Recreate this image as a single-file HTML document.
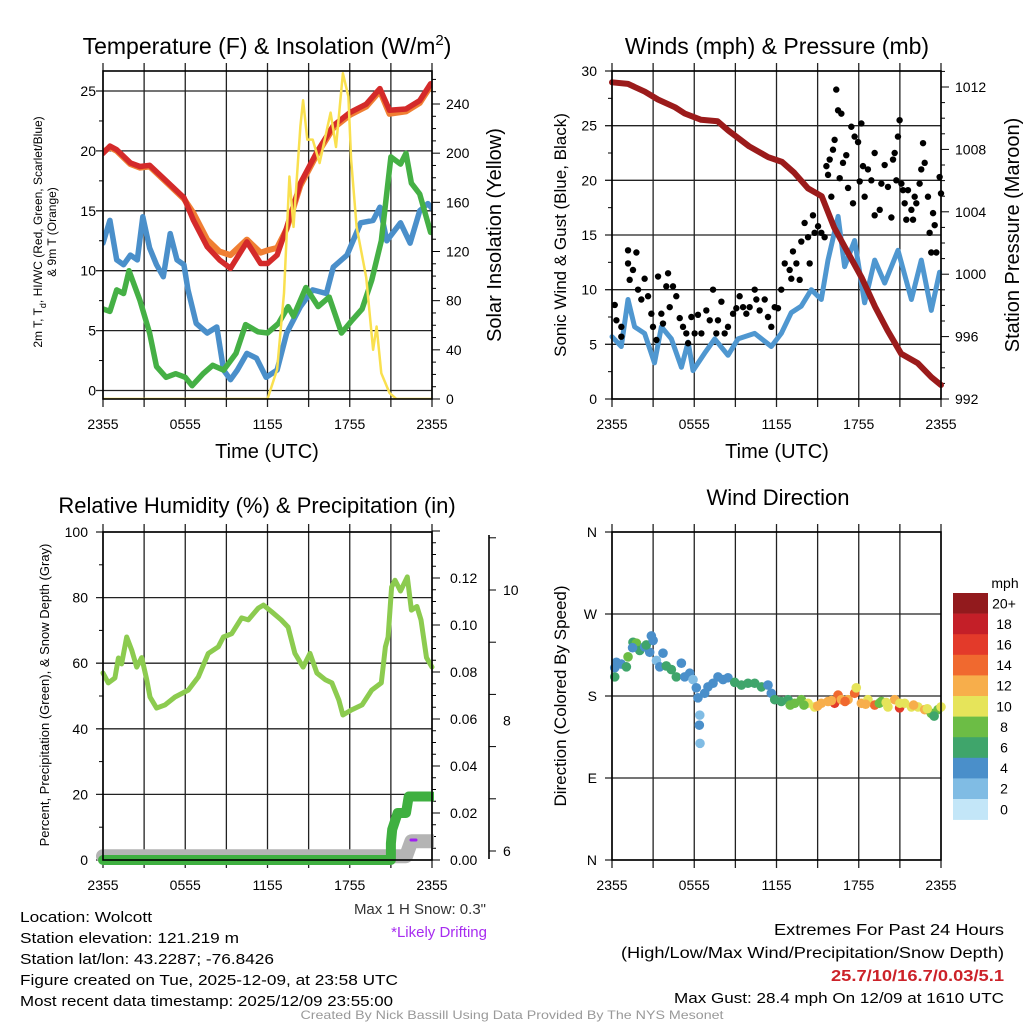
<!DOCTYPE html>
<html><head><meta charset="utf-8"><style>
body{margin:0;background:#fff;}
svg{display:block;font-family:"Liberation Sans",sans-serif;}
</style></head><body>
<svg id="fig" width="1024" height="1024" viewBox="0 0 1024 1024" xmlns="http://www.w3.org/2000/svg">
<rect x="0" y="0" width="1024" height="1024" fill="#fff"/>
<g id="layer"></g>
</svg>
<script>
// ---------- DATA ----------
const timeTickLabels = ["2355","0555","1155","1755","2355"];
// Panel 1: temperature (F) and insolation
const tempHours = [0,0.5,1.0,2.0,2.7,3.4,4.6,5.9,6.6,7.6,8.5,9.3,10.5,11.5,12,12.7,13.4,14.4,15.6,16.8,18,19.2,20.2,20.9,22.1,23.1,23.9];
const tempRed    = [19.8,20.4,20.1,19.0,18.7,18.8,17.5,16.1,14.2,12.0,10.9,10.2,12.4,10.6,10.6,11.3,13.6,17.3,19.9,22.1,23.2,23.9,25.2,23.4,23.5,24.2,25.6];
const temp9mOrange=[19.9,20.3,20.0,18.9,18.6,18.7,17.4,16.0,14.8,12.6,11.6,11.3,12.6,11.5,11.7,11.9,13.5,17.1,19.7,21.9,23.0,23.7,25.0,23.1,23.3,24.0,25.4];
const dewHours = [0,0.5,1,1.5,2,2.5,2.9,3.4,3.9,4.4,4.9,5.4,5.9,6.2,6.8,7.6,8.3,8.8,9.3,9.8,10.5,11.2,11.9,12.7,13.4,14.4,15.3,16.3,16.8,17.8,18.8,19.7,20.2,20.7,21.7,22.4,23.1,23.7,24];
const dewBlue  = [12.3,14.2,10.9,10.5,11.3,10.9,14.5,11.9,10.5,9.5,13.1,10.9,10.5,8.4,5.6,4.8,5.3,1.7,0.9,1.7,3.1,2.7,1.1,1.7,4.8,7.0,8.4,8.1,10.3,11.3,14.0,14.2,15.3,12.5,14.0,12.3,15.0,15.6,15.2];
const wcHours = [0,0.5,1.0,1.5,1.9,2.7,3.4,3.9,4.6,5.3,6.0,6.5,7.3,8.0,8.8,9.7,10.4,11.3,12.0,12.8,13.5,13.9,14.8,15.7,16.5,17.4,18.2,18.9,19.6,20.3,21.0,21.7,22.1,22.5,23.1,23.9];
const wcGreen = [6.8,6.6,8.4,8.1,10.0,7.5,4.8,2.0,1.1,1.4,1.1,0.4,1.4,2.1,1.7,3.1,5.5,4.9,4.8,5.6,7.0,6.2,8.6,7.0,7.8,4.8,5.9,6.8,9.2,12.5,19.5,18.9,19.8,17.3,16.4,13.2];
const solarHours = [0,12.0,12.7,13.2,13.6,13.9,14.4,14.6,14.9,15.3,15.8,16.6,17.0,17.5,17.9,18.1,18.5,19.2,19.7,19.96,20.3,20.9,21.4,24];
const solarYellow= [0,0,24,86,181,140,222,243,211,211,192,233,205,265,246,195,140,99,40,59,21,5,0,0];
const p1LeftTicks = [0,5,10,15,20,25];
const p1RightTicks = [0,40,80,120,160,200,240];
// Panel 2: winds and pressure
const presHours = [0,1.17,2.4,3.35,4.6,5.3,6.5,7.7,8.5,10.0,11.4,12.4,13.3,14.3,15.3,16.2,17.2,18.2,19.2,20.1,21.1,22.3,23.3,24];
const presMaroon= [1012.3,1012.2,1011.7,1011.2,1010.7,1010.3,1009.9,1009.8,1009.2,1008.2,1007.5,1007.2,1006.5,1005.5,1005.0,1003.0,1001.4,999.8,997.9,996.4,994.9,994.3,993.4,992.9];
const windHours = [0,0.68,1.17,1.65,2.38,3.1,3.6,4.33,5.06,5.55,5.91,6.76,7.49,8.46,9.19,10.41,11.62,12.35,13.08,13.81,14.54,15.27,15.76,16.49,16.97,17.7,18.43,19.16,19.89,20.86,21.84,22.56,23.29,23.9];
const windBlue  = [5.7,4.8,9.1,6.6,6.0,3.3,6.6,5.5,2.9,5.2,2.6,4.2,5.5,4.0,5.5,6.0,4.8,6.0,7.9,8.5,10.0,9.1,12.7,16.7,12.1,14.5,8.8,12.7,10.6,13.6,9.1,12.7,8.1,11.6];
const gustHours = [0.2,0.32,0.68,0.68,1.17,1.17,1.29,1.53,1.78,1.9,2.14,2.38,2.63,2.87,2.99,3.24,3.36,3.6,3.72,3.96,4.09,4.21,4.45,4.69,4.94,5.18,5.42,5.55,5.79,6.03,6.27,6.52,6.88,7.13,7.37,7.61,7.73,7.98,8.22,8.46,8.83,9.07,9.31,9.56,9.8,10.04,10.41,10.53,10.77,11.14,11.38,11.62,11.87,12.11,12.35,12.6,12.96,13.08,13.2,13.45,13.69,13.81,14.05,14.3,14.42,14.66,14.78,15.03,15.27,15.51,15.64,15.76,15.88,16.0,16.12,16.24,16.36,16.49,16.61,16.73,16.85,17.09,17.22,17.46,17.58,17.7,17.95,18.07,18.19,18.31,18.43,18.67,18.92,19.16,19.16,19.53,19.65,19.89,20.13,20.38,20.5,20.62,20.74,20.86,20.98,21.11,21.23,21.35,21.47,21.59,21.84,21.96,22.08,22.2,22.44,22.56,22.69,22.81,23.05,23.17,23.29,23.42,23.54,23.66,23.9,24.0];
const gustBlack = [8.6,7.2,6.6,5.7,13.6,12.4,10.9,11.8,13.4,10.0,9.1,11.0,9.4,7.8,6.6,5.4,11.2,7.8,6.9,10.3,11.5,8.4,10.3,9.4,7.4,6.6,6.0,5.1,7.5,6.0,7.7,6.0,8.1,7.2,10.0,6.0,7.2,8.9,6.0,6.6,7.8,8.3,9.4,8.4,7.8,8.4,10.0,9.1,8.1,9.1,7.5,6.6,8.4,8.3,10.0,12.4,11.8,11.0,13.5,12.4,10.9,14.4,16.1,14.8,12.4,16.8,15.2,15.8,15.2,14.8,21.3,20.5,21.9,18.5,22.8,23.7,28.3,26.4,20.2,26.1,21.6,22.3,19.3,24.9,17.9,24.0,23.5,19.9,25.2,21.3,18.5,21.0,20.0,22.5,16.8,17.3,19.7,21.4,19.4,16.6,21.9,22.5,20.0,24.0,25.5,19.7,19.1,17.9,16.4,19.1,17.3,16.4,18.5,17.9,19.7,21.0,23.4,21.6,18.5,15.2,13.4,17.0,15.9,13.4,20.3,18.8];
const p2LeftTicks = [0,5,10,15,20,25,30];
const p2RightTicks = [992,996,1000,1004,1008,1012];
// Panel 3: RH, precipitation, snow depth
const rhHours = [0,0.39,0.87,1.12,1.36,1.73,2.09,2.46,2.82,3.19,3.43,3.91,4.52,5.25,6.22,6.95,7.68,8.41,8.78,9.39,10.11,10.6,11.33,11.7,12.3,13.0,13.5,14.0,14.6,15.1,15.6,16.2,16.7,17.2,17.5,18.1,18.9,19.6,20.3,20.6,20.8,21.05,21.3,21.7,22.2,22.5,22.9,23.2,23.6,24];
const rhGreen = [57,54,55.5,61.6,59.8,68,64,58.8,61.7,55,49.7,46.3,47.3,49.7,51.8,55.8,63,65,68,69,73.8,73.2,76.8,77.7,75.7,73.2,71,63,58.8,63,57,55,54,48.8,44.2,45.7,47.3,51.8,54,65,68,83.2,85.3,82,86.3,76.2,77.3,73.2,61.7,58.8];
const precipHours = [0,21.0,21.0,21.1,21.5,22.1,22.3,24];
const precipIn    = [0,0,0.007,0.013,0.02,0.02,0.027,0.027];
const snowHours = [0,0.3,20.9,22.1,22.5,24];
const snowDepth = [5.92,5.92,5.92,5.92,6.15,6.15];
const p3LeftTicks = [0,20,40,60,80,100];
const p3PrecipTicks = [0,0.02,0.04,0.06,0.08,0.10,0.12];
const p3SnowTicks = [10.8,10,9.2,8.4,7.6,6.8,6.0];
const p3SnowLabels = [10,8,6];
// Panel 4: wind direction colored by speed
const dirHours = [0.2,0.2,0.32,0.68,1.05,1.17,1.53,1.78,2.02,2.38,2.87,2.75,3.24,3.48,3.72,3.96,4.33,4.69,5.06,5.3,5.67,5.91,6.15,6.27,6.4,6.37,6.42,6.76,7.0,7.37,7.73,8.1,8.46,8.95,9.44,9.92,10.41,10.9,11.38,11.62,11.87,12.35,12.84,13.33,13.81,14.3,14.78,15.27,15.76,16.24,16.49,16.73,17.22,17.7,17.82,18.19,18.67,19.16,19.65,20.13,20.62,20.98,21.35,21.84,22.32,22.81,23.29,23.78,24.0,13.0,15.0,16.0,18.5,19.5,21.0,22.0,23.0,1.5,2.5,3.0,14.0,17.0,20.0,23.5];
const dirDeg   = [201,211,217,215,212,223,239,238,230,234,246,228,219,212,227,213,209,201,216,201,205,198,189,178,159,148,128,183,190,194,201,198,200,195,192,194,194,190,192,183,176,174,176,172,176,172,168,172,174,172,181,176,176,183,189,172,176,170,174,168,176,167,172,168,168,165,161,165,168,170,169,175,171,172,172,170,166,233,236,241,170,174,173,158];
const dirSpeed = [6,4,5,4,6,8,6,8,6,4,4,5,3,4,4,6,6,6,4,4,4,3,4,4,3,4,3,4,4,4,4,4,5,6,6,6,6,6,4,4,6,6,7,8,9,10,11,13,12,16,14,12,13,15,10,12,11,15,8,10,12,16,10,11,10,12,9,8,10,8,12,13,12,9,10,12,10,4,6,4,9,14,10,7];
const dirTickLabels = ["N","E","S","W","N"];
const dirTickValues = [0,90,180,270,360];
const speedBinLabels = ["0","2","4","6","8","10","12","14","16","18","20+"];
const speedBinColors = ["#c3e6f8","#80bce4","#4a8fca","#3fa56b","#6cbd45","#e6e45a","#f7ae4b","#f0692f","#e33a2a","#c41f28","#921a1d"];

// ---------- DRAWING ----------
const NS="http://www.w3.org/2000/svg";
const layer=document.getElementById('layer');
function el(tag,attrs,parent){const e=document.createElementNS(NS,tag);for(const k in attrs)e.setAttribute(k,attrs[k]);(parent||layer).appendChild(e);return e;}
function lin(d0,d1,r0,r1){return v=>r0+(v-d0)*(r1-r0)/(d1-d0);}
function txt(s,x,y,size,anchor,extra,parent){const t=el('text',Object.assign({x:x,y:y,'font-size':size,'text-anchor':anchor||'start',fill:'#000'},extra||{}),parent);t.textContent=s;return t;}
function pathFrom(xs,ys,fx,fy){return xs.map((h,i)=>(i?'L':'M')+fx(h).toFixed(1)+','+fy(ys[i]).toFixed(1)).join('');}

function panelBase(name,x0,x1,y0,y1,hGrid,fy){
  const g=el('g',{});
  
  
  const fx=lin(0,24,x0,x1);
  for(let h=0;h<=24;h+=3){
    el('line',{x1:fx(h),x2:fx(h),y1:y0-8,y2:y1+8,stroke:'#222','stroke-width':1.3},g);
  }
  hGrid.forEach(v=>{el('line',{x1:x0-7,x2:x1,y1:fy(v),y2:fy(v),stroke:'#222','stroke-width':1.3},g);});
  [0,6,12,18,24].forEach((h,i)=>txt(timeTickLabels[i],fx(h),y1+30,14,'middle',{},g));
  return {g,fx};
}
function frame(g,x0,x1,y0,y1){el('rect',{x:x0,y:y0,width:x1-x0,height:y1-y0,fill:'none',stroke:'#000','stroke-width':1.6},g);}

// ---- Panel 1 ----
(function(){
  const x0=103,x1=432,y0=71,y1=399;
  const fT=lin(0,25,390.5,91), fS=lin(0,240,399,104);
  const {g,fx}=panelBase('temperature-panel',x0,x1,y0,y1,p1LeftTicks,fT);
  p1LeftTicks.forEach(v=>txt(String(v),96,fT(v)+5,14,'end',{},g));
  for(let v=2.5;v<26;v+=5){el('line',{x1:x0-4,x2:x0,y1:fT(v),y2:fT(v),stroke:'#000'},g);}
  for(let v=0;v<=260;v+=10){el('line',{x1:x1,x2:x1+(v%40===0?8:4),y1:fS(v),y2:fS(v),stroke:'#000'},g);}
  p1RightTicks.forEach(v=>txt(String(v),446,fS(v)+5,14,'start',{},g));
  const clip=el('clipPath',{id:'c1'},g);el('rect',{x:x0,y:y0-3,width:x1-x0,height:y1-y0+3},clip);
  const d=el('g',{'clip-path':'url(#c1)'},g);
  const o=el('path',{d:pathFrom(tempHours,temp9mOrange,fx,fT),fill:'none',stroke:'#f07f33','stroke-width':6,'stroke-linejoin':'round','stroke-linecap':'round'},d);
  
  const r=el('path',{d:pathFrom(tempHours,tempRed,fx,fT),fill:'none',stroke:'#d42a2a','stroke-width':5.5,'stroke-linejoin':'round','stroke-linecap':'round'},d);
  
  const b=el('path',{d:pathFrom(dewHours,dewBlue,fx,fT),fill:'none',stroke:'#4a8fca','stroke-width':5.5,'stroke-linejoin':'round','stroke-linecap':'round'},d);
  
  const gr=el('path',{d:pathFrom(wcHours,wcGreen,fx,fT),fill:'none',stroke:'#45b045','stroke-width':5.5,'stroke-linejoin':'round','stroke-linecap':'round'},d);
  
  const y=el('path',{d:pathFrom(solarHours,solarYellow,fx,fS),fill:'none',stroke:'#f9e04f','stroke-width':2.5,'stroke-linejoin':'round'},d);
  
  frame(g,x0,x1,y0,y1);
  const t=el('text',{x:267,y:54,'font-size':23,'text-anchor':'middle'},g);
  
  t.innerHTML='Temperature (F) &amp; Insolation (W/m<tspan dy="-9" font-size="15">2</tspan><tspan dy="9">)</tspan>';
  txt('Time (UTC)',267,458,20,'middle',{},g);
  const lt=el('text',{transform:'translate(42,232) rotate(-90)','font-size':12,'text-anchor':'middle'},g);
  
  lt.innerHTML='2m T, T<tspan dy="4" font-size="9">d</tspan><tspan dy="-4">, HI/WC (Red, Green, Scarlet/Blue)</tspan>';
  txt('& 9m T (Orange)',0,0,12,'middle',{transform:'translate(56,232) rotate(-90)',},g);
  txt('Solar Insolation (Yellow)',0,0,20,'middle',{transform:'translate(501,235) rotate(-90)',},g);
})();

// ---- Panel 2 ----
(function(){
  const x0=612,x1=941,y0=71,y1=399;
  const fW=lin(0,30,399,71), fP=lin(992,1012,399,87);
  const {g,fx}=panelBase('winds-panel',x0,x1,y0,y1,p2LeftTicks,fW);
  p2LeftTicks.forEach(v=>txt(String(v),597,fW(v)+5,14,'end',{},g));
  for(let v=2.5;v<30;v+=5){el('line',{x1:x0-4,x2:x0,y1:fW(v),y2:fW(v),stroke:'#000'},g);}
  for(let v=992;v<=1013;v+=1){el('line',{x1:x1,x2:x1+(v%4===0?8:4),y1:fP(v),y2:fP(v),stroke:'#000'},g);}
  p2RightTicks.forEach(v=>txt(String(v),955,fP(v)+5,14,'start',{},g));
  const b=el('path',{d:pathFrom(windHours,windBlue,fx,fW),fill:'none',stroke:'#4f97d0','stroke-width':5,'stroke-linejoin':'round','stroke-linecap':'round'},g);
  
  gustHours.forEach((h,i)=>{const c=el('circle',{cx:fx(h),cy:fW(gustBlack[i]),r:3.2,fill:'#000'},g);
    });
  const m=el('path',{d:pathFrom(presHours,presMaroon,fx,fP),fill:'none',stroke:'#9b1b1b','stroke-width':6,'stroke-linejoin':'round','stroke-linecap':'round'},g);
  
  frame(g,x0,x1,y0,y1);
  txt('Winds (mph) & Pressure (mb)',777,54,23,'middle',{},g);
  txt('Time (UTC)',777,458,20,'middle',{},g);
  txt('Sonic Wind & Gust (Blue, Black)',0,0,17,'middle',{transform:'translate(566,235) rotate(-90)',},g);
  txt('Station Pressure (Maroon)',0,0,20,'middle',{transform:'translate(1019,235) rotate(-90)',},g);
})();

// ---- Panel 3 ----
(function(){
  const x0=103,x1=432,y0=532,y1=860;
  const fR=lin(0,100,860,532), fPr=lin(0,0.12,860,578), fSn=lin(6,10,851,590);
  const {g,fx}=panelBase('humidity-panel',x0,x1,y0,y1,p3LeftTicks,fR);
  p3LeftTicks.forEach(v=>txt(String(v),88,fR(v)+5,14,'end',{},g));
  for(let v=10;v<100;v+=20){el('line',{x1:x0-4,x2:x0,y1:fR(v),y2:fR(v),stroke:'#000'},g);}
  for(let v=0;v<=0.1401;v+=0.005){el('line',{x1:x1,x2:x1+(Math.round(v*1000)%20===0?8:4),y1:fPr(v),y2:fPr(v),stroke:'#000'},g);}
  p3PrecipTicks.forEach(v=>txt(v.toFixed(2),450,fPr(v)+5,14,'start',{},g));
  el('line',{x1:489,x2:489,y1:535,y2:859,stroke:'#000','stroke-width':1.6},g);
  p3SnowTicks.forEach(v=>el('line',{x1:489,x2:496,y1:fSn(v),y2:fSn(v),stroke:'#000'},g));
  p3SnowLabels.forEach(v=>txt(String(v),503,fSn(v)+5,14,'start',{},g));
  const clip=el('clipPath',{id:'c3'},g);el('rect',{x:x0-10,y:y0,width:x1-x0+12,height:y1-y0+12},clip);
  const d=el('g',{'clip-path':'url(#c3)'},g);
  const gy=el('path',{d:pathFrom(snowHours,snowDepth,fx,fSn),fill:'none',stroke:'#b4b4b4','stroke-width':14,'stroke-linejoin':'round','stroke-linecap':'round'},d);
  
  const pr=el('path',{d:pathFrom(precipHours,precipIn,fx,fPr),fill:'none',stroke:'#3fb040','stroke-width':10,'stroke-linejoin':'round','stroke-linecap':'round'},d);
  
  const rh=el('path',{d:pathFrom(rhHours,rhGreen,fx,fR),fill:'none',stroke:'#8ccb4f','stroke-width':5,'stroke-linejoin':'round','stroke-linecap':'round'},g);
  
  el('line',{x1:411,x2:416,y1:840,y2:840,stroke:'#a020f0','stroke-width':3,'stroke-linecap':'round'},g);
  frame(g,x0,x1,y0,y1);
  txt('Relative Humidity (%) & Precipitation (in)',257,513,22,'middle',{},g);
  txt('Percent, Precipitation (Green), & Snow Depth (Gray)',0,0,13,'middle',{transform:'translate(49,695) rotate(-90)',},g);
  txt('Max 1 H Snow: 0.3"',486,914,15,'end',{fill:'#333',},g);
  txt('*Likely Drifting',487,937,15,'end',{fill:'#a72cf0',},g);
})();

// ---- Panel 4 ----
(function(){
  const x0=612,x1=941,y0=532,y1=860;
  const fD=lin(0,360,860,532);
  const {g,fx}=panelBase('wind-direction-panel',x0,x1,y0,y1,dirTickValues,fD);
  dirTickValues.forEach((v,i)=>txt(dirTickLabels[i],597,fD(v)+5,14,'end',{},g));
  dirHours.forEach((h,i)=>{
    const bin=Math.min(10,Math.floor(dirSpeed[i]/2));
    const c=el('circle',{cx:fx(h),cy:fD(dirDeg[i]),r:4.8,fill:speedBinColors[bin]},g);
    
  });
  frame(g,x0,x1,y0,y1);
  txt('Wind Direction',778,505,22,'middle',{},g);
  txt('Direction (Colored By Speed)',0,0,17,'middle',{transform:'translate(566,696) rotate(-90)',},g);
  const cb=el('g',{},g);
  const bh=20.6;
  for(let i=0;i<11;i++){
    const k=10-i;const yy=593+i*bh;
    el('rect',{x:953,y:yy,width:35,height:bh+0.3,fill:speedBinColors[k]},cb);
    txt(speedBinLabels[k],1004,yy+bh/2+5,14,'middle',{},cb);
  }
  txt('mph',1005,588,14,'middle',{},cb);
})();

// ---- Footer text ----
(function(){
  const g=el('g',{});
  const lines=['Location: Wolcott','Station elevation: 121.219 m','Station lat/lon: 43.2287; -76.8426','Figure created on Tue, 2025-12-09, at 23:58 UTC','Most recent data timestamp: 2025/12/09 23:55:00'];
  const lens=[132,219,254,378,373];
  lines.forEach((s,i)=>txt(s,20,922+i*21,15,'start',{textLength:lens[i],lengthAdjust:'spacingAndGlyphs'},g));
  const e=el('g',{});
  txt('Extremes For Past 24 Hours',1004,935,16,'end',{textLength:230,lengthAdjust:'spacingAndGlyphs'},e);
  txt('(High/Low/Max Wind/Precipitation/Snow Depth)',1004,958,16,'end',{textLength:383,lengthAdjust:'spacingAndGlyphs'},e);
  txt('25.7/10/16.7/0.03/5.1',1004,981,16,'end',{fill:'#cc2229','font-weight':'bold',textLength:173,lengthAdjust:'spacingAndGlyphs'},e);
  txt('Max Gust: 28.4 mph On 12/09 at 1610 UTC',1004,1003,15,'end',{textLength:330,lengthAdjust:'spacingAndGlyphs'},e);
  txt('Created By Nick Bassill Using Data Provided By The NYS Mesonet',512,1019,12,'middle',{fill:'#999',textLength:423,lengthAdjust:'spacingAndGlyphs',});
})();
</script>
</body></html>
